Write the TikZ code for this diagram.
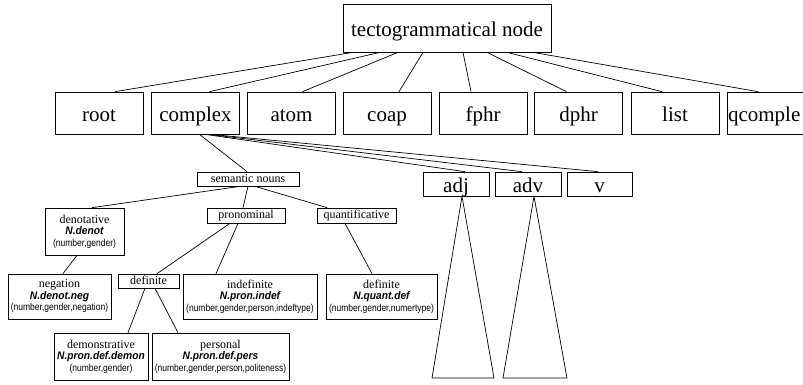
\documentclass[tikz,border=0pt]{standalone}
\usepackage{fontspec}
\setmainfont{Liberation Serif}
\newfontfamily\bisans[FakeStretch=0.93]{Liberation Sans}
\newfontfamily\nsans[FakeStretch=0.85]{Liberation Sans}
\newcommand\featname[1]{{\bisans\bfseries\itshape\fontsize{11bp}{11.5bp}\selectfont #1}}
\newcommand\featargs[1]{{\nsans\fontsize{10bp}{11.5bp}\selectfont #1}}
\tikzset{
  bigbox/.style={draw, line width=0.7bp, font=\fontsize{21bp}{24bp}\selectfont, inner sep=0pt, text height=20bp, text depth=4bp, minimum height=42bp, minimum width=88bp},
  smallbox/.style={draw, line width=0.7bp, font=\fontsize{12bp}{11.5bp}\selectfont, inner sep=0pt, text height=9bp, text depth=3bp, minimum height=14bp},
  featbox/.style={draw, line width=0.7bp, align=center, font=\fontsize{12bp}{11.5bp}\selectfont, inner sep=0pt, minimum height=46bp},
  edge/.style={line width=0.7bp}
}
\begin{document}
\begin{tikzpicture}[x=1bp,y=-1bp]
\clip (0,0) rectangle (803,384);
\fill[white] (0,0) rectangle (803,384);
% top
\node[bigbox, minimum width=208bp, minimum height=48bp] (top) at (447,28) {tectogrammatical node};
% row 2
\node[bigbox] (root) at (99,113) {root};
\node[bigbox] (complex) at (195.5,113) {complex};
\node[bigbox] (atom) at (291.5,113) {atom};
\node[bigbox] (coap) at (387,113) {coap};
\node[bigbox] (fphr) at (483,113) {fphr};
\node[bigbox] (dphr) at (578.5,113) {dphr};
\node[bigbox] (list) at (675,113) {list};
\node[bigbox, text width=86bp, align=left, inner xsep=1bp] (qcomple) at (771,113) {qcomple};
% row 3
\node[smallbox, minimum width=102bp] (sem) at (248,179) {semantic nouns};
\node[bigbox, minimum width=66bp, minimum height=24bp] (adj) at (456,184) {adj};
\node[bigbox, minimum width=66bp, minimum height=24bp] (adv) at (528,184) {adv};
\node[bigbox, minimum width=65bp, minimum height=24bp] (v) at (599.5,184) {v};
% row 4
\node[featbox, minimum width=79bp, minimum height=47bp] (denot) at (84.5,231.5) {denotative\\\featname{N.denot}\\\featargs{(number,gender)}};
\node[smallbox, minimum width=78bp, minimum height=15bp] (pron) at (246,215.5) {pronominal};
\node[smallbox, minimum width=79bp, minimum height=15bp] (quant) at (356.5,215.5) {quantificative};
% row 5
\node[featbox, minimum width=103bp, minimum height=45bp] (neg) at (59.5,296.5) {negation\\\featname{N.denot.neg}\\\featargs{(number,gender,negation)}};
\node[smallbox, minimum width=61bp] (pdef) at (148.5,281) {definite};
\node[featbox, minimum width=134bp, minimum height=45bp] (indef) at (250,296.5) {indefinite\\\featname{N.pron.indef}\\\featargs{(number,gender,person,indeftype)}};
\node[featbox, minimum width=111bp, minimum height=45bp] (qdef) at (381.5,296.5) {definite\\\featname{N.quant.def}\\\featargs{(number,gender,numertype)}};
% row 6
\node[featbox, minimum width=94bp, minimum height=47bp] (demon) at (101,356.5) {demonstrative\\\featname{N.pron.def.demon}\\\featargs{(number,gender)}};
\node[featbox, minimum width=137bp, minimum height=47bp] (pers) at (220.5,356.5) {personal\\\featname{N.pron.def.pers}\\\featargs{(number,gender,person,politeness)}};
% triangle base corners
\coordinate (adjL) at (432,378);
\coordinate (adjR) at (494,378);
\coordinate (advL) at (503,378);
\coordinate (advR) at (567,378);
% edges
\draw[edge] ([xshift=-94bp]top.south) -- ([xshift=16bp]root.north);
\draw[edge] ([xshift=-67bp]top.south) -- ([xshift=14bp]complex.north);
\draw[edge] ([xshift=-49bp]top.south) -- ([xshift=11bp]atom.north);
\draw[edge] ([xshift=-24bp]top.south) -- ([xshift=12bp]coap.north);
\draw[edge] ([xshift=16bp]top.south) -- ([xshift=-12bp]fphr.north);
\draw[edge] ([xshift=40bp]top.south) -- ([xshift=-12bp]dphr.north);
\draw[edge] ([xshift=60bp]top.south) -- ([xshift=-13bp]list.north);
\draw[edge] ([xshift=86bp]top.south) -- ([xshift=-13bp]qcomple.north);
\draw[edge] ([xshift=4bp]complex.south) -- ([xshift=-1bp]sem.north);
\draw[edge] ([xshift=9.5bp]complex.south) -- ([xshift=9bp]adj.north);
\draw[edge] ([xshift=12.5bp]complex.south) -- ([xshift=-6bp]adv.north);
\draw[edge] ([xshift=15.5bp]complex.south) -- ([xshift=-1.5bp]v.north);
\draw[edge] ([xshift=-8bp]sem.south) -- ([xshift=7.5bp]denot.north);
\draw[edge] (sem.south) -- ([xshift=-3bp]pron.north);
\draw[edge] ([xshift=7bp]sem.south) -- ([xshift=-29.5bp]quant.north);
\draw[edge] ([xshift=-7.5bp]denot.south) -- ([xshift=3.5bp]neg.north);
\draw[edge] ([xshift=-16bp]pron.south) -- ([xshift=8.5bp]pdef.north);
\draw[edge] ([xshift=-8bp]pron.south) -- ([xshift=-34bp]indef.north);
\draw[edge] ([xshift=-11.5bp]quant.south) -- ([xshift=-9.5bp]qdef.north);
\draw[edge] ([xshift=-3.5bp]pdef.south) -- ([xshift=27bp]demon.north);
\draw[edge] ([xshift=6.5bp]pdef.south) -- ([xshift=-42.5bp]pers.north);
% triangles
\draw[edge] ([xshift=6bp]adj.south) -- (adjR) -- (adjL) -- cycle;
\draw[edge] ([xshift=6bp]adv.south) -- (advR) -- (advL) -- cycle;
\end{tikzpicture}
\end{document}
